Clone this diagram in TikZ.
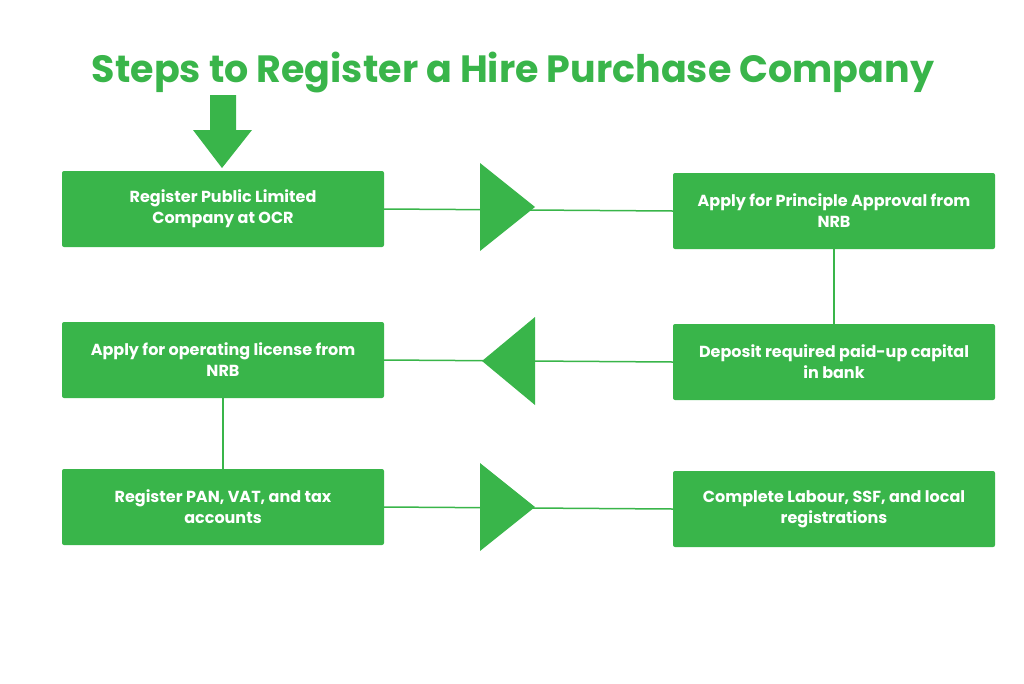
\documentclass[tikz,border=0pt]{standalone}
\usepackage{fontspec}
\setmainfont{Poppins}
\definecolor{gr}{HTML}{39B54A}
\begin{document}
\begin{tikzpicture}[x=1pt,y=-1pt,
  box/.style={draw=none,fill=gr,rounded corners=2pt,minimum width=322pt,minimum height=76pt,text=white,font=\bfseries\fontsize{16}{21}\selectfont,align=center,inner sep=0pt},
  ln/.style={draw=gr,line width=1.5pt},
  tri/.style={fill=gr,draw=none}]
\useasboundingbox (0,0) rectangle (1024,683);
\node[text=gr,font=\bfseries\fontsize{38}{44}\selectfont] (title) at (513,73) {Steps to Register a Hire Purchase Company};
\node[box] (b1) at (223,209) {Register Public Limited\\Company at OCR};
\node[box] (b2) at (834,211) {Apply for Principle Approval from\\NRB};
\node[box] (b3) at (834,362) {Deposit required paid-up capital\\in bank};
\node[box] (b4) at (223,360) {Apply for operating license from\\NRB};
\node[box] (b5) at (223,507) {Register PAN, VAT, and tax\\accounts};
\node[box] (b6) at (834,509) {Complete Labour, SSF, and local\\registrations};
\draw[ln] (b1.east) -- (b2.west);
\draw[ln] (b2.south) -- (b3.north);
\draw[ln] (b3.west) -- (b4.east);
\draw[ln] (b4.south) -- (b5.north);
\draw[ln] (b5.east) -- (b6.west);
\fill[tri] (480,163) -- (535,207) -- (480,251) -- cycle;
\fill[tri] (535,317) -- (482,361) -- (535,405) -- cycle;
\fill[tri] (480,463) -- (535,507) -- (480,551) -- cycle;
\fill[tri] (210,95) -- (236,95) -- (236,130) -- (252,130) -- (222,168) -- (193,130) -- (210,130) -- cycle;
\end{tikzpicture}
\end{document}
